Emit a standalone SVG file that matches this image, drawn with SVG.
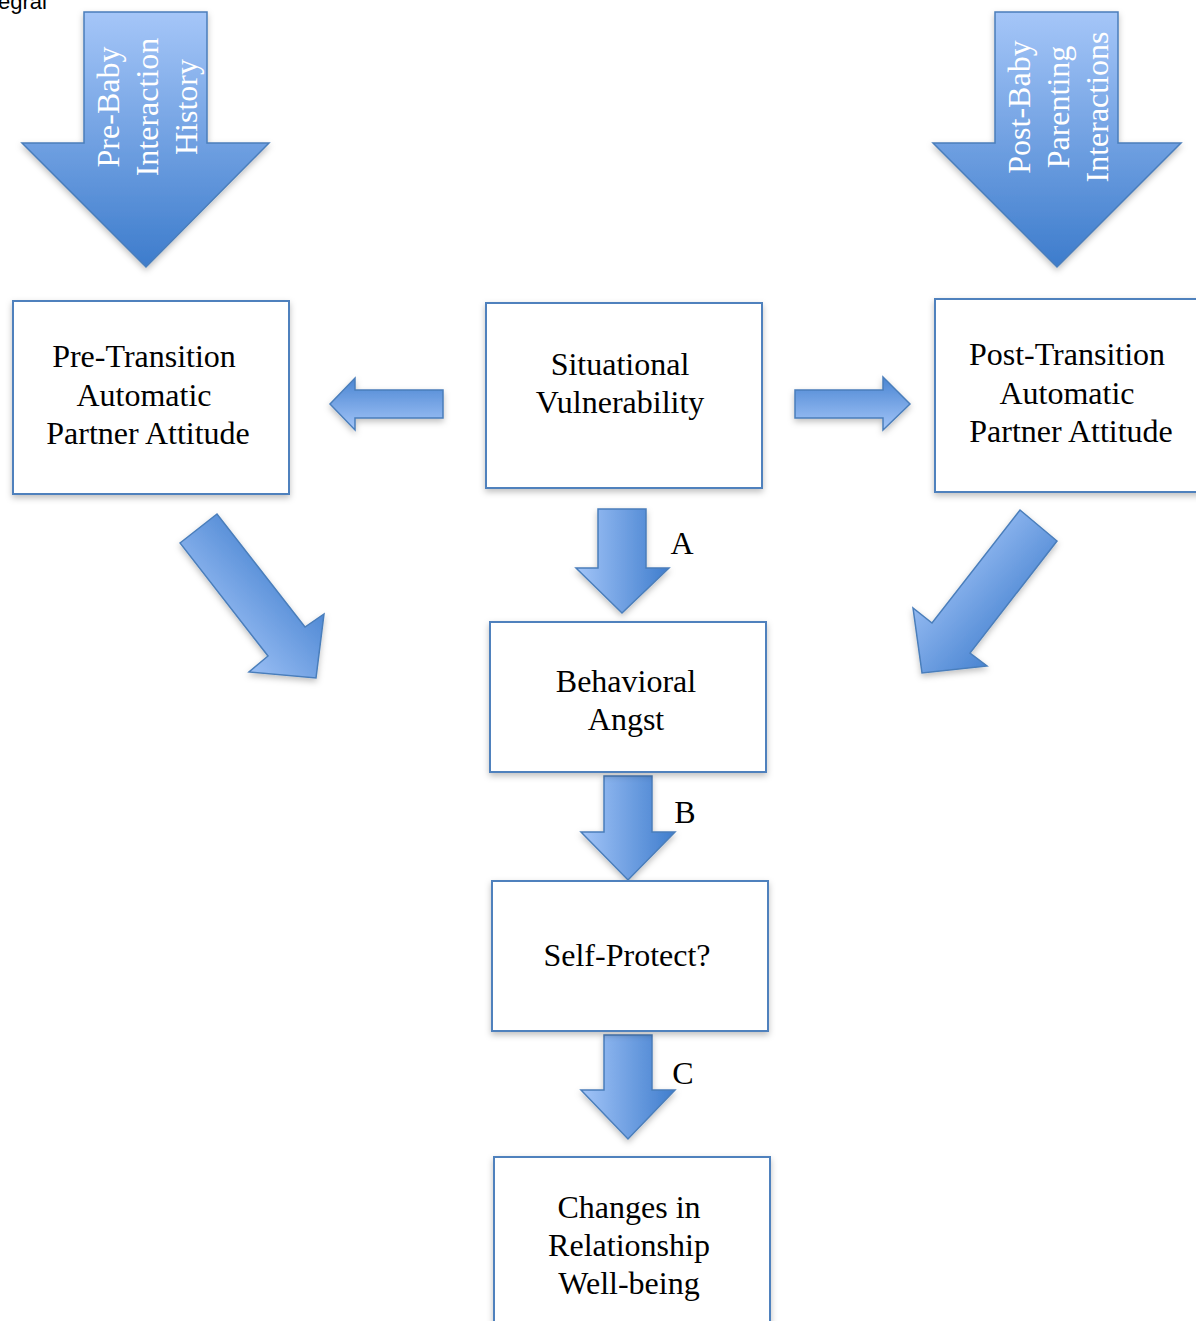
<svg xmlns="http://www.w3.org/2000/svg" width="1196" height="1321" viewBox="0 0 1196 1321">
<defs>
<linearGradient id="gBig" x1="0" y1="0" x2="0" y2="1"><stop offset="0" stop-color="#a5c6f8"/><stop offset="1" stop-color="#3d7ccc"/></linearGradient>
<linearGradient id="gDown" x1="0" y1="0" x2="1" y2="0"><stop offset="0" stop-color="#a3c5f8"/><stop offset="1" stop-color="#3f7dcd"/></linearGradient>
<linearGradient id="gHoriz" x1="0" y1="1" x2="0" y2="0"><stop offset="0" stop-color="#a3c5f8"/><stop offset="1" stop-color="#4a85d2"/></linearGradient>
<linearGradient id="gDR" x1="0" y1="1" x2="1" y2="0"><stop offset="0.2" stop-color="#a3c5f8"/><stop offset="0.8" stop-color="#3f7dcd"/></linearGradient>
<linearGradient id="gDL" x1="0" y1="0" x2="1" y2="1"><stop offset="0.2" stop-color="#a3c5f8"/><stop offset="0.8" stop-color="#3f7dcd"/></linearGradient>
<filter id="sh" x="-20%" y="-20%" width="140%" height="140%"><feDropShadow dx="0" dy="3" stdDeviation="3" flood-color="#000" flood-opacity="0.25"/></filter>
</defs>
<style>
.box{fill:#fff;stroke:#4f81bd;stroke-width:2;filter:url(#sh)}
.lbl{font-family:"Liberation Serif","Times New Roman",serif;font-size:32px;fill:#000;text-anchor:middle}
.wlbl{font-family:"Liberation Serif","Times New Roman",serif;font-size:32px;fill:#fff;text-anchor:middle}
.arr{stroke:#4a7ebb;stroke-width:1.5;filter:url(#sh)}
</style>
<rect width="1196" height="1321" fill="#fff"/>
<text x="-2" y="9" font-family="'Liberation Sans',Arial,sans-serif" font-size="22" fill="#000">egral</text>

<g id="connectors">
<polygon class="arr" fill="url(#gBig)" points="84,12 207,12 207,143 269,143 146,267 22,143 84,143"/>
<polygon class="arr" fill="url(#gBig)" points="995,12 1118,12 1118,143 1181,143 1057,267 933,143 995,143"/>
<polygon class="arr" fill="url(#gHoriz)" points="443,390 443,418 355,418 355,430 330,404 355,378 355,390"/>
<polygon class="arr" fill="url(#gHoriz)" points="795,390 883,390 883,377 910,404 883,430 883,418 795,418"/>
<polygon class="arr" fill="url(#gDR)" points="180,543 217,514 305,627 324,614 316,678 249,672 268,656"/>
<polygon class="arr" fill="url(#gDL)" points="1020,510 1057,541 970,653 987,666 922,673 913,608 932,623"/>
<polygon class="arr" fill="url(#gDown)" points="598,509 646,509 646,568 669,568 622,613 576,568 598,568"/>
<polygon class="arr" fill="url(#gDown)" points="604,776 652,776 652,832 675,832 628,880 581,832 604,832"/>
<polygon class="arr" fill="url(#gDown)" points="604,1035 652,1035 652,1090 675,1090 628,1139 581,1090 604,1090"/>
<text class="wlbl" transform="translate(119,107) rotate(-90)">Pre-Baby</text>
<text class="wlbl" transform="translate(158,107) rotate(-90)">Interaction</text>
<text class="wlbl" transform="translate(197,107) rotate(-90)">History</text>
<text class="wlbl" transform="translate(1030,107) rotate(-90)">Post-Baby</text>
<text class="wlbl" transform="translate(1069,107) rotate(-90)">Parenting</text>
<text class="wlbl" transform="translate(1108,107) rotate(-90)">Interactions</text>
<text class="lbl" x="682" y="554">A</text>
<text class="lbl" x="685" y="823">B</text>
<text class="lbl" x="683" y="1084">C</text>
</g>

<g id="pre">
<rect class="box" x="13" y="301" width="276" height="193"/>
<text class="lbl" x="144" y="367">Pre-Transition</text>
<text class="lbl" x="144" y="406">Automatic</text>
<text class="lbl" x="148" y="444">Partner Attitude</text>
</g>
<g id="situ">
<rect class="box" x="486" y="303" width="276" height="185"/>
<text class="lbl" x="620" y="375">Situational</text>
<text class="lbl" x="620" y="413">Vulnerability</text>
</g>
<g id="post">
<rect class="box" x="935" y="299" width="276" height="193"/>
<text class="lbl" x="1067" y="365">Post-Transition</text>
<text class="lbl" x="1067" y="404">Automatic</text>
<text class="lbl" x="1071" y="442">Partner Attitude</text>
</g>
<g id="angst">
<rect class="box" x="490" y="622" width="276" height="150"/>
<text class="lbl" x="626" y="692">Behavioral</text>
<text class="lbl" x="626" y="730">Angst</text>
</g>
<g id="self">
<rect class="box" x="492" y="881" width="276" height="150"/>
<text class="lbl" x="627" y="966">Self-Protect?</text>
</g>
<g id="changes">
<rect class="box" x="494" y="1157" width="276" height="190"/>
<text class="lbl" x="629" y="1218">Changes in</text>
<text class="lbl" x="629" y="1256">Relationship</text>
<text class="lbl" x="629" y="1294">Well-being</text>
</g>
</svg>
